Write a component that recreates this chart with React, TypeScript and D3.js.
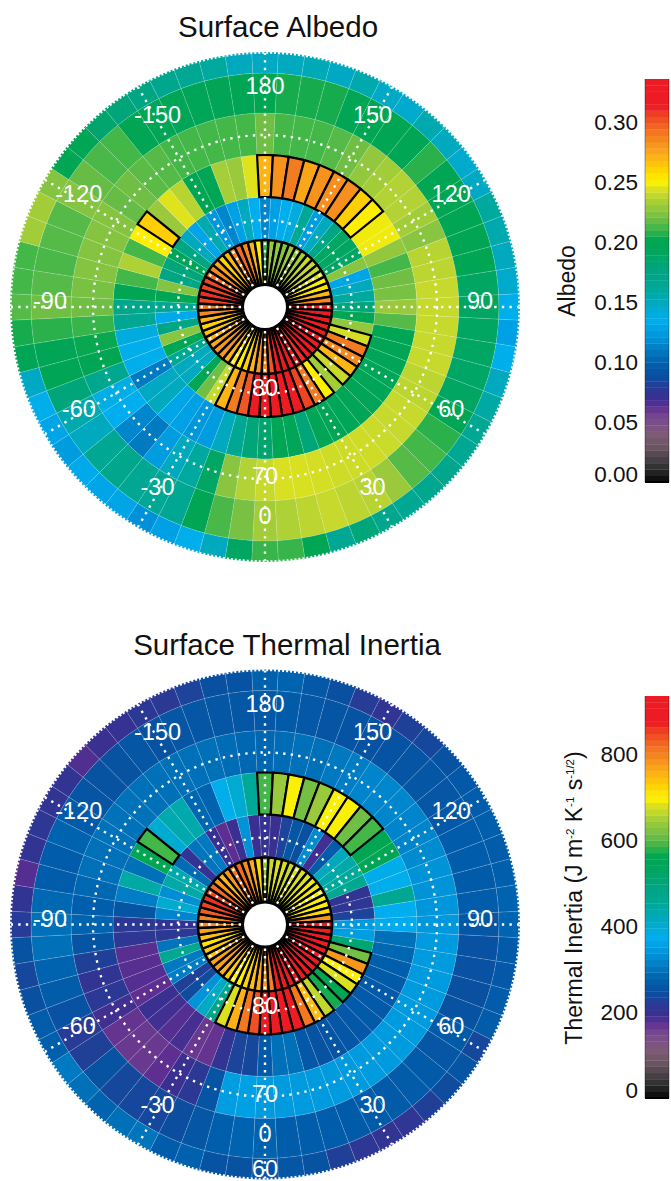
import React from "react";
import * as d3 from "d3";

// Ring values: 60 sectors of 6 degrees, clockwise from longitude 180 (top)
const albedoRing0 = [.21,.23,.228,.225,.23,.23,.232,.24,.24,.24,.245,.25,.255,.27,.285,.32,.32,.32,.32,.32,.32,.32,.32,.315,.31,.32,.32,.32,.315,.30,.285,.28,.27,.26,.252,.255,.27,.28,.28,.275,.27,.265,.26,.27,.285,.29,.305,.31,.305,.305,.295,.285,.275,.26,.27,.285,.295,.285,.27,.252];
const albedoRing1 = [.115,.128,.135,.14,.165,.125,.15,.175,.19,.19,.19,.226,.13,.15,.16,.18,.2,.228,.243,.29,.285,.27,.24,.232,.252,.29,.305,.32,.32,.32,.32,.315,.30,.29,.27,.24,.22,.2,.15,.15,.165,.2,.226,.175,.132,.165,.2,.225,.175,.18,.195,.175,.15,.13,.155,.122,.115,.128,.15,.135];
const albedoRing2 = [.27,.282,.29,.275,.282,.283,.283,.262,.252,.248,.248,.228,.212,.22,.222,.23,.215,.2,.198,.198,.195,.195,.197,.197,.195,.197,.197,.18,.195,.198,.185,.18,.165,.15,.125,.122,.128,.13,.15,.148,.11,.136,.136,.14,.165,.17,.2,.212,.235,.212,.252,.262,.23,.245,.237,.2,.2,.233,.23,.245];
const albedoRing3 = [.22,.212,.212,.212,.215,.22,.228,.232,.236,.236,.232,.226,.237,.238,.24,.24,.24,.24,.24,.238,.238,.24,.24,.241,.242,.242,.242,.243,.244,.244,.24,.236,.226,.19,.16,.15,.125,.11,.115,.135,.138,.168,.2,.203,.21,.22,.222,.225,.225,.225,.225,.218,.22,.216,.215,.212,.212,.212,.212,.212];
const albedoRing4 = [.202,.205,.205,.205,.2,.2,.2,.2,.208,.2,.2,.2,.2,.2,.19,.19,.19,.19,.188,.19,.2,.208,.212,.215,.23,.237,.238,.24,.238,.235,.232,.222,.213,.2,.165,.165,.165,.17,.165,.15,.155,.18,.198,.198,.208,.22,.215,.213,.215,.215,.225,.218,.213,.212,.2,.198,.196,.196,.197,.2];
const albedoRing5 = [.148,.15,.152,.148,.155,.147,.145,.155,.15,.145,.148,.16,.155,.15,.145,.136,.128,.136,.15,.158,.165,.165,.17,.168,.165,.17,.18,.165,.2,.21,.21,.19,.15,.136,.128,.12,.13,.13,.132,.125,.13,.136,.148,.197,.205,.215,.212,.212,.232,.232,.225,.2,.198,.185,.18,.175,.168,.165,.16,.15];

const inertiaRing0 = [640,670,680,680,670,680,680,680,690,690,695,695,700,720,780,885,885,885,885,885,885,885,885,885,885,885,885,885,885,800,780,760,740,725,700,700,730,755,770,770,740,730,710,740,770,790,800,830,850,860,850,820,780,750,780,810,820,790,760,720];
const inertiaRing1 = [200,195,230,260,245,325,190,270,420,435,450,465,205,210,228,345,350,510,615,780,700,680,560,570,665,745,810,885,890,890,885,840,810,755,680,480,410,335,240,225,310,305,465,300,215,205,320,400,330,440,430,290,205,300,305,195,175,195,335,195];
const inertiaRing2 = [590,640,695,615,640,695,695,612,590,560,555,380,378,460,375,370,295,285,275,268,265,265,265,262,260,255,250,262,295,295,265,235,230,205,170,165,188,180,190,195,175,180,178,178,210,215,255,310,440,295,560,590,400,430,432,285,280,378,400,455];
const inertiaRing3 = [285,290,295,295,305,310,318,320,320,318,318,325,335,335,338,340,345,345,345,345,345,345,345,345,345,345,345,345,345,345,345,355,350,255,215,195,175,165,165,170,190,215,205,225,255,280,275,285,295,295,297,297,297,295,295,295,295,295,290,285];
const inertiaRing4 = [262,268,262,255,252,250,252,255,258,258,262,272,272,268,272,258,248,248,245,250,268,258,268,270,268,268,268,272,272,272,280,280,275,258,243,235,235,235,250,225,220,248,270,280,295,295,285,272,272,280,268,255,250,250,258,250,258,258,258,258];
const inertiaRing5 = [278,280,262,245,220,205,225,235,250,262,272,275,270,275,280,282,268,262,272,270,235,255,240,225,208,205,210,225,250,258,250,250,252,278,272,300,295,280,295,305,275,270,245,235,250,220,205,180,205,210,205,205,182,195,200,215,215,228,245,252];

const ringEdges = [21, 67, 110, 152, 194, 234, 255];
const outlinedRing1 = [18,19,20,21,22,24,25,26,27,28,29,30,31,32,33,34];
const outlinedRing2 = [0,1,2,3,4,5,6,7,8,51];
const lonTicks = [180,150,120,90,60,30,0,-30,-60,-90,-120,-150];
const albedoTicks = ["0.30","0.25","0.20","0.15","0.10","0.05","0.00"];
const albedoTickValues = [.30,.25,.20,.15,.10,.05,.007];
const inertiaTicks = ["800","600","400","200","0"];
const inertiaTickValues = [800,600,400,200,18];

const colorPos = [1235,1225,1180,1130,1090,1040,1010,985,955,920,880,850,800,750,700,660,600,540,510,480,450,420,385,360,335,300,270,225,190,160,130,110,28];
const colorHex = ["#000000","#111111","#3c3a3c","#6a5560","#7f5a78","#78488f","#5f2f90","#3a2f92","#2a3a95","#0a4fa0","#005fac","#0073bb","#0095da","#00aeef","#00a9c0","#00a99d","#00a580","#00a65a","#00a651","#39b54a","#6abd45","#8dc63f","#b5d334","#d7df23","#fff200","#ffd400","#fdb913","#f7941d","#f47920","#f15a24","#ef3b24","#ed1c24","#ed1c24"];
const colorScale = d3.scaleLinear<string>()
  .domain(colorPos.map(p => (1235 - p) / 1207))
  .range(colorHex)
  .interpolate(d3.interpolateRgb)
  .clamp(true);

const FONT = "'Liberation Sans', Arial, sans-serif";
const rad = (d: number) => d * Math.PI / 180;
const cellArc = d3.arc<any>().padAngle(0);
const cellPath = (ring: number, k: number) => cellArc({
  innerRadius: ringEdges[ring], outerRadius: ringEdges[ring + 1],
  startAngle: rad(k * 6 - 3), endAngle: rad(k * 6 + 3),
}) as string;

function Polar({ cx, cy, rings, vmax, extraLat }: { cx: number; cy: number; rings: number[][]; vmax: number; extraLat?: boolean }) {
  const fill = (v: number) => colorScale(v / vmax);
  const latLabels = extraLat ? [[80, 87], [70, 175], [60, 250.5]] : [[80, 87], [70, 175]];
  return (
    <g transform={`translate(${cx},${cy})`}>
      {rings.map((vals, r) => r === 0 ? null : vals.map((v, k) => (
        <path key={`${r}-${k}`} d={cellPath(r, k)} fill={fill(v)} stroke="#fff" strokeOpacity={0.25} strokeWidth={0.5} />
      )))}
      {rings[0].map((v, k) => (
        <path key={`b0-${k}`} d={cellPath(0, k)} fill={fill(v)} stroke="#000" strokeWidth={2.4} />
      ))}
      {outlinedRing1.map(k => (
        <path key={`b1-${k}`} d={cellPath(1, k)} fill={fill(rings[1][k])} stroke="#000" strokeWidth={2.2} />
      ))}
      {outlinedRing2.map(k => (
        <path key={`b2-${k}`} d={cellPath(2, k)} fill={fill(rings[2][k])} stroke="#000" strokeWidth={2.2} />
      ))}
      <circle r={21} fill="#fff" />
      <circle r={254.5} fill="none" stroke="#fff" strokeWidth={2.5} strokeDasharray="2 2" />
      <circle r={87} fill="none" stroke="#fff" strokeWidth={2.4} strokeDasharray="2.4 5.2" />
      <circle r={172} fill="none" stroke="#fff" strokeWidth={2.4} strokeDasharray="2.4 5.2" />
      {lonTicks.map(lon => {
        const a = rad(lon);
        return <line key={lon} x1={24 * Math.sin(a)} y1={24 * Math.cos(a)} x2={254 * Math.sin(a)} y2={254 * Math.cos(a)}
          stroke="#fff" strokeWidth={2.4} strokeDasharray="2.4 5.2" />;
      })}
      {lonTicks.map(lon => {
        const a = rad(lon);
        return <text key={`t${lon}`} x={215 * Math.sin(a)} y={215 * Math.cos(a) + 2} fill="#fff" fontSize={23.5} textAnchor="middle" fontFamily={FONT}>{lon}</text>;
      })}
      {latLabels.map(([lat, r]) => (
        <text key={lat} x={0} y={r + 2} fill="#fff" fontSize={23.5} textAnchor="middle" fontFamily={FONT}>{lat}</text>
      ))}
    </g>
  );
}

function ColorBar({ top, bottom, ticks, values, vmax }: { top: number; bottom: number; ticks: string[]; values: number[]; vmax: number }) {
  const y = d3.scaleLinear().domain([0, vmax]).range([bottom, top]);
  const steps = d3.range(64);
  const h = (bottom - top) / 64;
  return (
    <g>
      {steps.map(i => (
        <rect key={i} x={645} y={bottom - (i + 1) * h} width={24} height={h + 0.3} fill={colorScale((i + 0.5) / 64)} />
      ))}
      <line x1={645} x2={645} y1={top} y2={bottom} stroke="#000" strokeOpacity={0.6} strokeWidth={0.6} />
      <line x1={669} x2={669} y1={top} y2={bottom} stroke="#000" strokeOpacity={0.6} strokeWidth={0.6} />
      <line x1={645} x2={669} y1={bottom} y2={bottom} stroke="#000" strokeWidth={2} />
      {ticks.map((t, i) => (
        <text key={t} x={638} y={y(values[i]) + 8} fontSize={22.5} textAnchor="end" fontFamily={FONT} fill="#111">{t}</text>
      ))}
    </g>
  );
}

export default function App() {
  return (
    <svg width={671} height={1181} viewBox="0 0 671 1181" style={{ position: "absolute", left: 0, top: 0, display: "block", background: "#fff" }}>
      <text x={278} y={37} fontSize={29.5} textAnchor="middle" fontFamily={FONT} fill="#111">Surface Albedo</text>
      <text x={287} y={655} fontSize={29.5} textAnchor="middle" fontFamily={FONT} fill="#111">Surface Thermal Inertia</text>
      <Polar cx={265} cy={307} rings={[albedoRing0, albedoRing1, albedoRing2, albedoRing3, albedoRing4, albedoRing5]} vmax={0.336} />
      <Polar cx={265} cy={924.5} rings={[inertiaRing0, inertiaRing1, inertiaRing2, inertiaRing3, inertiaRing4, inertiaRing5]} vmax={935} extraLat />
      <ColorBar top={79} bottom={482} ticks={albedoTicks} values={albedoTickValues} vmax={0.336} />
      <ColorBar top={696} bottom={1098} ticks={inertiaTicks} values={inertiaTickValues} vmax={935} />
      <text transform="translate(575,281) rotate(-90)" fontSize={23} textAnchor="middle" fontFamily={FONT} fill="#111">Albedo</text>
      <text transform="translate(582,898) rotate(-90)" fontSize={23} textAnchor="middle" fontFamily={FONT} fill="#111">
        Thermal Inertia (J m<tspan fontSize={11.5} dy={-8}>-2</tspan><tspan dy={8}> K</tspan><tspan fontSize={11.5} dy={-8}>-1</tspan><tspan dy={8}> s</tspan><tspan fontSize={11.5} dy={-8}>-1/2</tspan><tspan dy={8}>)</tspan>
      </text>
    </svg>
  );
}
